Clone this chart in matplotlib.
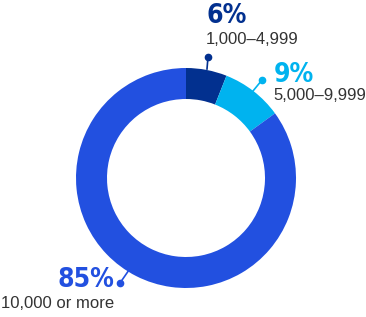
import matplotlib.pyplot as plt

shares = [6, 9, 85]
labels = ["1,000–4,999", "5,000–9,999", "10,000 or more"]
pct_labels = ["6%", "9%", "85%"]
colors = ["#02308f", "#00b3ef", "#2250e0"]

H = 317
fig = plt.figure(figsize=(3.66, 3.17), dpi=100)
ax = fig.add_axes([0, 0, 1, 1])

cx, cy, r = 186, H - 178, 110
ax.pie(shares, colors=colors, startangle=90, counterclock=False,
       center=(cx, cy), radius=r, frame=True,
       wedgeprops=dict(width=31, linewidth=0))
ax.set_xlim(0, 366)
ax.set_ylim(0, H)
ax.set_aspect("equal")
ax.axis("off")

big = dict(family=["DejaVu Sans"], stretch="condensed", weight="bold", fontsize=19)
small = dict(family=["Liberation Sans", "DejaVu Sans"], fontsize=12, color="#333333")

# callout dots and leaders (pixel positions: dot, ring point)
calls = [((208, 57), (207, 69)), ((262, 80), (253, 91)), ((120, 283), (129, 270))]
for (d, e), c in zip(calls, colors):
    ax.plot([d[0], e[0]], [H - d[1], H - e[1]], color=c, lw=1.2)
    ax.plot(d[0], H - d[1], "o", color=c, ms=4.5)

ax.text(206, H - 16, pct_labels[0], color=colors[0], va="center", ha="left", **big)
ax.text(206, H - 39, labels[0], va="center", ha="left", **small)
ax.text(274, H - 75, pct_labels[1], color=colors[1], va="center", ha="left", **big)
ax.text(273, H - 95, labels[1], va="center", ha="left", **small)
ax.text(114, H - 280, pct_labels[2], color=colors[2], va="center", ha="right", **big)
ax.text(1, H - 304, labels[2], va="center", ha="left", **small)

fig.savefig("out.png", dpi=100)
